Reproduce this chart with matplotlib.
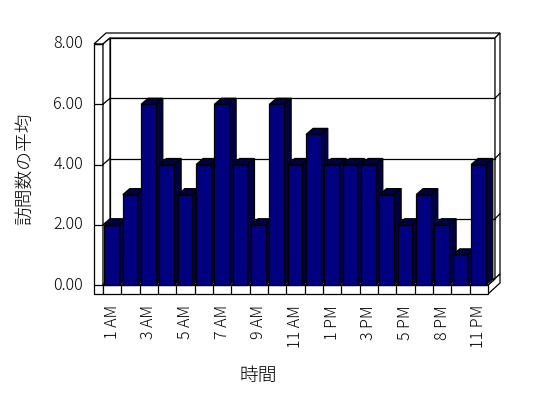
import matplotlib
matplotlib.use("Agg")
import matplotlib.pyplot as plt
from matplotlib.patches import Polygon

plt.rcParams['font.family'] = ['Noto Sans CJK JP', 'DejaVu Sans']

# ---- data ----
hours = ["1 AM", "2 AM", "3 AM", "4 AM", "5 AM", "6 AM", "7 AM", "8 AM", "9 AM",
         "10 AM", "11 AM", "12 PM", "1 PM", "2 PM", "3 PM", "4 PM", "5 PM",
         "7 PM", "8 PM", "10 PM", "11 PM"]
visits = [2, 3, 6, 4, 3, 4, 6, 4, 2, 6, 4, 5, 4, 4, 4, 3, 2, 3, 2, 1, 4]
yticks = [0, 2, 4, 6, 8]
ylabel = "訪問数の平均"
xlabel = "時間"

# ---- layout (pixel scale of the reference) ----
FW, FH = 548, 398
N = len(hours)
X0PX, X1PX = 103, 488        # front plane left/right
Y0PX, Y8PX = 285, 44         # value 0 / value 8 on front plane
W = (X1PX - X0PX) / N        # px per category
H = (Y0PX - Y8PX) / 8.0      # px per unit
DX, DY = 7 / W, 6 / H        # depth to back wall inner face
DXo, DYo = 12 / W, 11 / H    # depth to back wall outer face
TL = 9 / W                   # left wall thickness
TF = 9 / H                   # floor thickness
YMAX = 8

xmin, xmax = -0.8, N + 1.0
ymin, ymax = -0.5, 8.6

fig = plt.figure(figsize=(FW / 100, FH / 100), dpi=100)
lpx = X0PX + xmin * W
rpx = X0PX + xmax * W
tpx = Y0PX - ymax * H
bpx = Y0PX - ymin * H
ax = fig.add_axes([lpx / FW, (FH - bpx) / FH, (rpx - lpx) / FW, (bpx - tpx) / FH])
ax.set_xlim(xmin, xmax)
ax.set_ylim(ymin, ymax)
ax.axis('off')

LW = 0.9
wall = dict(facecolor='white', edgecolor='black', linewidth=LW, joinstyle='miter')
TXT = dict(fontweight='light', color='black')

def poly(pts, z, **kw):
    ax.add_patch(Polygon(pts, closed=True, zorder=z, **kw))

# back wall inner face
poly([(DX, DY), (N + DX, DY), (N + DX, YMAX + DY), (DX, YMAX + DY)], 1, **wall)
# top edge faces (left wall + back wall)
poly([(-TL, YMAX), (0, YMAX), (DX, YMAX + DY), (N + DX, YMAX + DY),
      (N + DXo, YMAX + DYo), (-TL + DXo, YMAX + DYo)], 1, **wall)
# back wall right edge face
poly([(N + DX, YMAX + DY), (N + DXo, YMAX + DYo), (N + DXo, DYo), (N + DX, DY)], 1, **wall)
# floor right face
poly([(N, 0), (N, -TF), (N + DXo, -TF + DYo), (N + DXo, DYo)], 1, **wall)
# left wall front face
poly([(-TL, -TF), (0, -TF), (0, YMAX), (-TL, YMAX)], 1, **wall)
# left wall inner face
poly([(0, 0), (0, YMAX), (DX, YMAX + DY), (DX, DY)], 1, **wall)
# floor top face
poly([(0, 0), (N, 0), (N + DX, DY), (DX, DY)], 1, **wall)
# floor front face
poly([(0, -TF), (N, -TF), (N, 0), (0, 0)], 1, **wall)

# category dividers on floor
for i in range(1, N):
    ax.plot([i, i], [-TF, 0], color='black', lw=LW, zorder=2, solid_capstyle='butt')
    ax.plot([i, i + DX], [0, DY], color='black', lw=LW, zorder=2)

# gridlines / ticks
for v in yticks:
    ax.plot([-TL, 0], [v, v], color='black', lw=LW, zorder=2, solid_capstyle='butt')
    if 0 < v < YMAX:
        ax.plot([0, DX], [v, v + DY], color='black', lw=LW, zorder=2)
        ax.plot([DX, N + DX], [v + DY, v + DY], color='black', lw=LW, zorder=2)
        ax.plot([N + DX, N + DXo], [v + DY, v + DYo], color='black', lw=LW, zorder=2)
    ax.text(-TL - 11 / W, v, f"{v:.2f}", ha='right', va='center', fontsize=11.5, **TXT)

# bars
FRONT = '#000080'
DARK = '#000045'
off, bw = 0.08, 0.8
for i, v in enumerate(visits):
    z = 10 + i
    x0 = i + off
    x1 = x0 + bw
    ax.bar(x0, v, width=bw, align='edge', color=FRONT, edgecolor='black',
           linewidth=LW, zorder=z + 0.2)
    poly([(x0, v), (x1, v), (x1 + DX, v + DY), (x0 + DX, v + DY)], z + 0.1,
         facecolor=DARK, edgecolor='black', linewidth=LW)
    poly([(x1, 0), (x1 + DX, DY), (x1 + DX, v + DY), (x1, v)], z + 0.1,
         facecolor=DARK, edgecolor='black', linewidth=LW)

# category labels (every other)
for i in range(0, N, 2):
    ax.text(i + 0.5, -(305 - Y0PX) / H, hours[i], rotation=90, ha='center',
            va='top', fontsize=11.5, **TXT)

fig.text(25 / FW, 1 - 169 / FH, ylabel, rotation=90, ha='center', va='center',
         fontsize=13.5, **TXT)
fig.text(258 / FW, 1 - 375.5 / FH, xlabel, ha='center', va='center',
         fontsize=13.5, **TXT)

fig.savefig("out.png", dpi=100)
